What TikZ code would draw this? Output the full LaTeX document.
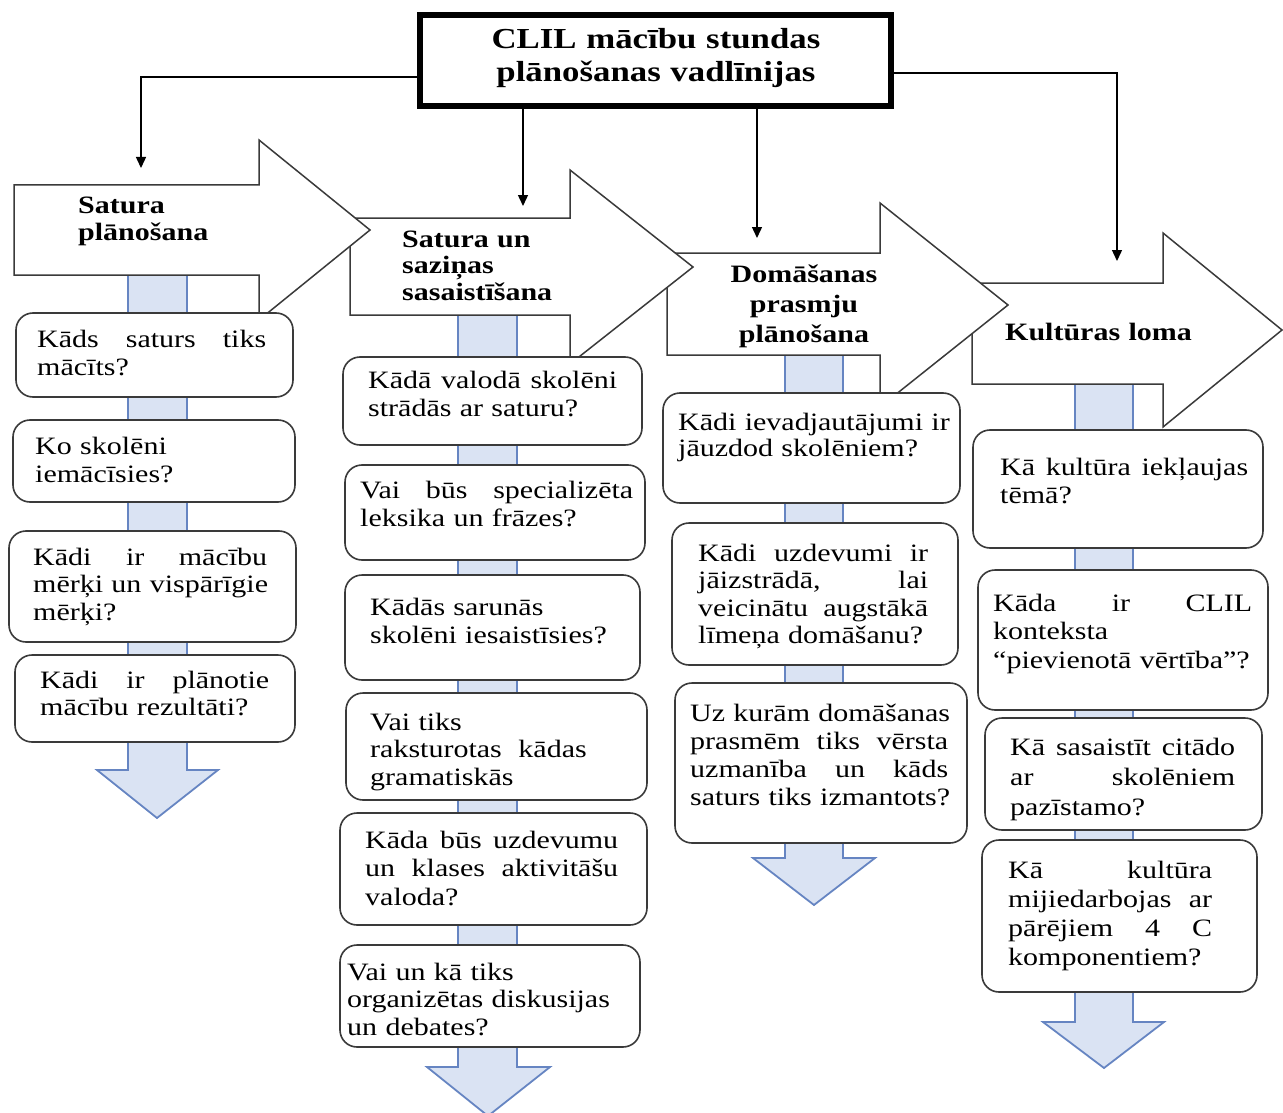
\documentclass[tikz,border=0pt]{standalone}
\usepackage{fontspec}
\setmainfont[FakeStretch=1.2]{Liberation Serif}
\usetikzlibrary{arrows.meta}
\definecolor{outl}{HTML}{3A3A3A}
\definecolor{bfill}{HTML}{DAE3F3}
\definecolor{bline}{HTML}{6685C2}
\newcommand{\jl}[2]{\leavevmode\hbox to #1pt{#2}}
\newcommand{\gp}{\hfill\ }
\newcommand{\qfont}[1]{\fontsize{25}{#1}\selectfont\hyphenpenalty=10000\exhyphenpenalty=10000}
\newcommand{\hfont}[1]{\bfseries\fontsize{25}{#1}\selectfont}
\newcommand{\qb}[5]{\node[qbox, minimum width={(#4-#2)*1pt}, minimum height={(#5-#3)*1pt}] (#1) at ({(#2+#4)/2},{(#3+#5)/2}) {};}
\tikzset{
  bigarr/.style={draw=outl, line width=1.5pt, fill=white, line join=miter},
  blueshaft/.style={draw=bline, line width=1.8pt, fill=bfill, line join=miter},
  qbox/.style={draw=outl, line width=1.6pt, fill=white, rounded corners=17pt, inner sep=0pt, outer sep=0pt},
  qtext/.style={anchor=base west, inner sep=0pt, align=left, text width=330pt},
  ttl/.style={anchor=base west, inner sep=0pt, align=left, text width=220pt},
  conn/.style={draw=black, line width=1.4pt, -{Triangle[width=10pt,length=11pt]}},
  topbox/.style={draw=black, line width=5.5pt, fill=white, inner sep=0pt}
}
\begin{document}
\begin{tikzpicture}[x=1pt,y=-1pt]
\useasboundingbox (0,0) rectangle (1283,1113);
% blue down arrows
\path[blueshaft] (128,275) -- (128,770) -- (97,770) -- (157,818) -- (218,770) -- (187,770) -- (187,275) -- cycle;
\path[blueshaft] (458,315) -- (458,1067) -- (427,1067) -- (488,1116) -- (550,1067) -- (517,1067) -- (517,315) -- cycle;
\path[blueshaft] (785,355) -- (785,858) -- (753,858) -- (814,905) -- (875,858) -- (843,858) -- (843,355) -- cycle;
\path[blueshaft] (1075,384) -- (1075,1022) -- (1043,1022) -- (1104,1068) -- (1164,1022) -- (1133,1022) -- (1133,384) -- cycle;
% big block arrows (4 first so 1 on top)
\path[bigarr] (972,283) -- (1163,283) -- (1163,233) -- (1282,330) -- (1163,427) -- (1163,384) -- (972,384) -- cycle;
\path[bigarr] (667,253) -- (880,253) -- (880,203) -- (1008,305) -- (880,407) -- (880,355) -- (667,355) -- cycle;
\path[bigarr] (350,218) -- (570,218) -- (570,170) -- (693,267) -- (570,364) -- (570,315) -- (350,315) -- cycle;
\path[bigarr] (14,185) -- (259,185) -- (259,140) -- (370,230) -- (259,320) -- (259,275) -- (14,275) -- cycle;
% titles on arrows
\node[ttl, font=\hfont{27}] (h1) at (78,214) {Satura\\plānošana};
\node[ttl, font=\hfont{26.5}] (h2) at (402,247) {Satura un\\saziņas\\sasaistīšana};
\node[ttl, anchor=base, align=center, font=\hfont{30}] (h3) at (804,282) {Domāšanas\\prasmju\\plānošana};
\node[ttl, font=\hfont{27}] (h4) at (1005,340) {Kultūras loma};
% top box
\node[topbox, minimum width=471pt, minimum height=91pt] (top) at (655.5,60.5) {};
\node[anchor=base, inner sep=0pt, align=center, text width=440pt, font=\hfont{33}\fontsize{29}{33}\selectfont] (toptitle) at (656,49) {CLIL mācību stundas\\plānošanas vadlīnijas};
% connectors
\coordinate (in1) at (141,168);
\coordinate (in2) at (523,206);
\coordinate (in3) at (757,238);
\coordinate (in4) at (1117,261);
\draw[conn] ([yshift=-16.5pt]top.west) -| (in1);
\draw[conn] (top.south -| in2) -- (in2);
\draw[conn] (top.south -| in3) -- (in3);
\draw[conn] ([yshift=-12.5pt]top.east) -| (in4);
% question boxes
\qb{b1a}{16}{313}{293}{397}
\qb{b1b}{13}{420}{295}{502}
\qb{b1c}{9}{531}{296}{642}
\qb{b1d}{15}{655}{295}{742}
\qb{b2a}{343}{357}{642}{445}
\qb{b2b}{345}{465}{645}{560}
\qb{b2c}{345}{575}{640}{680}
\qb{b2d}{346}{693}{647}{800}
\qb{b2e}{340}{813}{647}{925}
\qb{b2f}{340}{945}{640}{1047}
\qb{b3a}{663}{393}{960}{503}
\qb{b3b}{672}{523}{958}{665}
\qb{b3c}{675}{683}{967}{843}
\qb{b4a}{973}{430}{1263}{548}
\qb{b4b}{978}{570}{1268}{710}
\qb{b4c}{985}{718}{1262}{830}
\qb{b4d}{982}{840}{1257}{992}
% question texts
\node[qtext, font=\qfont{28}] (t1a) at (37,347) {\jl{229}{Kāds\gp saturs\gp tiks}\\mācīts?};
\node[qtext, font=\qfont{28}] (t1b) at (35,454) {Ko skolēni\\iemācīsies?};
\node[qtext, font=\qfont{27.5}] (t1c) at (33,565) {\jl{234}{Kādi\gp ir\gp mācību}\\\jl{234}{mērķi\gp un\gp vispārīgie}\\mērķi?};
\node[qtext, font=\qfont{27}] (t1d) at (40,688) {\jl{229}{Kādi\gp ir\gp plānotie}\\mācību rezultāti?};
\node[qtext, font=\qfont{28}] (t2a) at (368,388) {\jl{249}{Kādā\gp valodā\gp skolēni}\\strādās ar saturu?};
\node[qtext, font=\qfont{28}] (t2b) at (360,498) {\jl{273}{Vai\gp būs\gp specializēta}\\leksika un frāzes?};
\node[qtext, font=\qfont{28}] (t2c) at (370,615) {Kādās sarunās\\skolēni iesaistīsies?};
\node[qtext, font=\qfont{27.5}] (t2d) at (370,730) {Vai tiks\\raksturotas\ \ kādas\\gramatiskās};
\node[qtext, font=\qfont{28.5}] (t2e) at (365,848) {\jl{253}{Kāda\gp būs\gp uzdevumu}\\\jl{253}{un\gp klases\gp aktivitāšu}\\valoda?};
\node[qtext, font=\qfont{27.5}] (t2f) at (347,980) {Vai un kā tiks\\organizētas diskusijas\\un debates?};
\node[qtext, font=\qfont{26}] (t3a) at (678,430) {\jl{269}{Kādi\gp ievadjautājumi\gp ir}\\jāuzdod skolēniem?};
\node[qtext, font=\qfont{27.5}] (t3b) at (698,561) {\jl{230}{Kādi\gp uzdevumi\gp ir}\\\jl{230}{jāizstrādā,\gp lai}\\\jl{230}{veicinātu\gp augstākā}\\līmeņa domāšanu?};
\node[qtext, font=\qfont{28.3}] (t3c) at (690,721) {\jl{258}{Uz\gp kurām\gp domāšanas}\\\jl{258}{prasmēm\gp tiks\gp vērsta}\\\jl{258}{uzmanība\gp un\gp kāds}\\saturs tiks izmantots?};
\node[qtext, font=\qfont{28}] (t4a) at (1000,475) {\jl{248}{Kā\gp kultūra\gp iekļaujas}\\tēmā?};
\node[qtext, font=\qfont{28.5}] (t4b) at (993,611) {\jl{259}{Kāda\gp ir\gp CLIL}\\konteksta\\“pievienotā vērtība”?};
\node[qtext, font=\qfont{30}] (t4c) at (1010,755) {\jl{225}{Kā\gp sasaistīt\gp citādo}\\\jl{225}{ar\gp skolēniem}\\pazīstamo?};
\node[qtext, font=\qfont{29.3}] (t4d) at (1008,878) {\jl{204}{Kā\gp kultūra}\\\jl{204}{mijiedarbojas\gp ar}\\\jl{204}{pārējiem\gp 4\gp C}\\komponentiem?};
\end{tikzpicture}
\end{document}
